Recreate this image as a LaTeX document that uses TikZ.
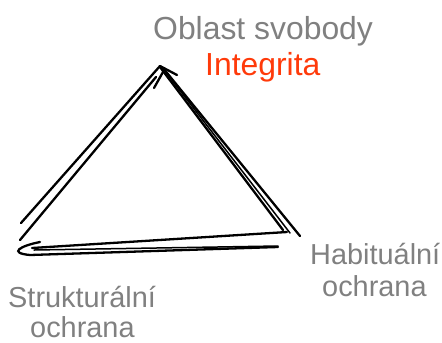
\documentclass[tikz,border=0pt]{standalone}
\usepackage{fontspec}
\setmainfont{Liberation Sans}
\definecolor{labelgray}{HTML}{808080}
\definecolor{accentred}{HTML}{FF3A0A}
\begin{document}
\begin{tikzpicture}[x=1bp,y=-1bp,
  stroke/.style={black,line width=2.3bp,line cap=round},
  thinstroke/.style={black,line width=1.5bp,line cap=round},
  toplabel/.style={anchor=base west,inner sep=0pt,font=\fontsize{32}{36}\selectfont},
  cornerlabel/.style={anchor=base west,inner sep=0pt,font=\fontsize{29}{33}\selectfont,text=labelgray}]
\useasboundingbox (0,0) rectangle (442,342);
% corners
\coordinate (apex) at (160,66);
\coordinate (bl) at (20,240);
\coordinate (br) at (300,236);
% left side
\draw[stroke] (21,223) -- (apex);
\draw[stroke] (bl) -- (156,77);
\draw[stroke] (154,88) -- (163,72);
\draw[stroke] (apex) -- (177,75);
% right side
\draw[stroke] (163,68) -- (br);
\draw[stroke] (160,67) -- (283,230);
\draw[thinstroke] (168,75) -- (290,233);
% bottom
\draw[stroke] (32,248) -- (287,232);
\draw[stroke] (40,242) .. controls (20,246) and (8,253) .. (30,255) -- (278,247);
\draw[thinstroke] (34,250) -- (278,246);
% labels
\node[toplabel,text=labelgray] (oblast) at (153,39) {Oblast svobody};
\node[toplabel,text=accentred] (integrita) at (205,75) {Integrita};
\node[cornerlabel] (hab1) at (310,264) {Habituální};
\node[cornerlabel] (hab2) at (322,296) {ochrana};
\node[cornerlabel] (str1) at (8,307) {Strukturální};
\node[cornerlabel] (str2) at (30,337) {ochrana};
\end{tikzpicture}
\end{document}
